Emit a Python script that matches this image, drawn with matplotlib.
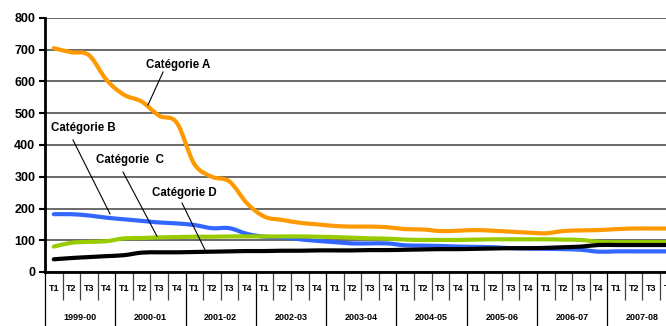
import numpy as np
import matplotlib.pyplot as plt
from matplotlib.path import Path
from matplotlib.patches import PathPatch
from matplotlib.transforms import blended_transform_factory

plt.rcParams['font.family'] = ['Liberation Sans', 'DejaVu Sans']
plt.rcParams['font.weight'] = 'bold'

# --- Daten ---
quarters = ['T1', 'T2', 'T3', 'T4']
years = ['1999-00', '2000-01', '2001-02', '2002-03', '2003-04',
         '2004-05', '2005-06', '2006-07', '2007-08']

cat_a = [705, 692, 683, 605, 558, 537, 492, 470, 340, 300, 285, 216,
         174, 164, 155, 150, 145, 143, 143, 141, 135, 134, 129, 130,
         132, 130, 127, 124, 122, 129, 131, 132, 135, 137, 137, 137]
cat_b = [182, 182, 178, 171, 166, 161, 156, 153, 148, 138, 138, 120,
         111, 109, 103, 98, 94, 90, 90, 90, 84, 83, 82, 80,
         79, 78, 75, 74, 73, 72, 70, 64, 65, 65, 65, 65]
cat_c = [80, 92, 95, 97, 106, 107, 109, 110, 111, 111, 112, 112,
         112, 112, 112, 111, 110, 108, 106, 105, 102, 101, 101, 101,
         102, 103, 103, 103, 103, 102, 101, 95, 94, 94, 94, 94]
cat_d = [40, 44, 47, 50, 53, 61, 62, 62, 63, 64, 65, 66,
         66, 67, 67, 68, 68, 68, 69, 69, 70, 71, 72, 72,
         73, 74, 75, 75, 76, 78, 80, 85, 85, 85, 85, 85]

series = [('Catégorie A', cat_a, '#FF9900'),
          ('Catégorie B', cat_b, '#3366FF'),
          ('Catégorie  C', cat_c, '#99CC00'),
          ('Catégorie D', cat_d, '#000000')]

# Beschriftungen: Textposition, Anfang und Ende der Hinweislinie
labels = [('Catégorie A', (7.57, 652), (6.72, 630), (5.86, 526)),
          ('Catégorie B', (2.16, 454), (1.59, 416), (3.70, 183)),
          ('Catégorie  C', (4.84, 353), (4.44, 315), (6.37, 113)),
          ('Catégorie D', (7.91, 249), (7.80, 217), (9.11, 69))]

n = len(years) * len(quarters)
x = np.arange(n) + 0.5


def smooth_path(xs, ys):
    # geglaettete Linie wie in Excel (Catmull-Rom als Bezier)
    p = np.column_stack([xs, ys]).astype(float)
    pp = np.vstack([p[0], p, p[-1]])
    verts = [p[0]]
    codes = [Path.MOVETO]
    for i in range(len(p) - 1):
        c1 = pp[i + 1] + (pp[i + 2] - pp[i]) / 6
        c2 = pp[i + 2] - (pp[i + 3] - pp[i + 1]) / 6
        verts += [c1, c2, pp[i + 2]]
        codes += [Path.CURVE4] * 3
    return Path(verts, codes)


fig = plt.figure(figsize=(6.66, 3.26), dpi=100)
ax = fig.add_axes([45/666, 54/326, 632.6/666, 254/326])

for name, vals, col in series:
    ax.add_patch(PathPatch(smooth_path(x, vals), facecolor='none',
                           edgecolor=col, lw=3.0, joinstyle='round',
                           capstyle='round', zorder=3))

for txt, tpos, p0, p1 in labels:
    ax.text(tpos[0], tpos[1], txt, ha='center', va='center', fontsize=8.3,
            fontweight='bold', zorder=5)
    ax.plot([p0[0], p1[0]], [p0[1], p1[1]], color='black', lw=0.8, zorder=4)

ax.set_xlim(0, n)
ax.set_ylim(0, 800)
ax.set_yticks(range(0, 801, 100))
ax.yaxis.grid(True, color='#505050', lw=1.2)
ax.set_axisbelow(True)
for s in ['top', 'right']:
    ax.spines[s].set_visible(False)
ax.spines['left'].set_linewidth(2)
ax.spines['bottom'].set_linewidth(2)
ax.tick_params(axis='y', length=4, width=1.5, labelsize=9, pad=3)
for lab in ax.get_yticklabels():
    lab.set_fontweight('bold')

# x-Achse: Quartale und Jahre
ax.set_xticks(range(0, n + 1, 4))
ax.set_xticks(range(n + 1), minor=True)
ax.set_xticklabels([])
ax.tick_params(axis='x', which='major', length=60, width=0.9, color='black')
ax.tick_params(axis='x', which='minor', length=20, width=0.9, color='#404040')

tr = blended_transform_factory(ax.transData, ax.transAxes)
for i in range(n):
    ax.text(i + 0.5, -0.063, quarters[i % 4], transform=tr, ha='center',
            va='center', fontsize=6.5, fontweight='bold')
for j, yr in enumerate(years):
    ax.text(j * 4 + 2, -0.181, yr, transform=tr, ha='center', va='center',
            fontsize=6.5, fontweight='bold')

fig.savefig('out.png', dpi=100)
